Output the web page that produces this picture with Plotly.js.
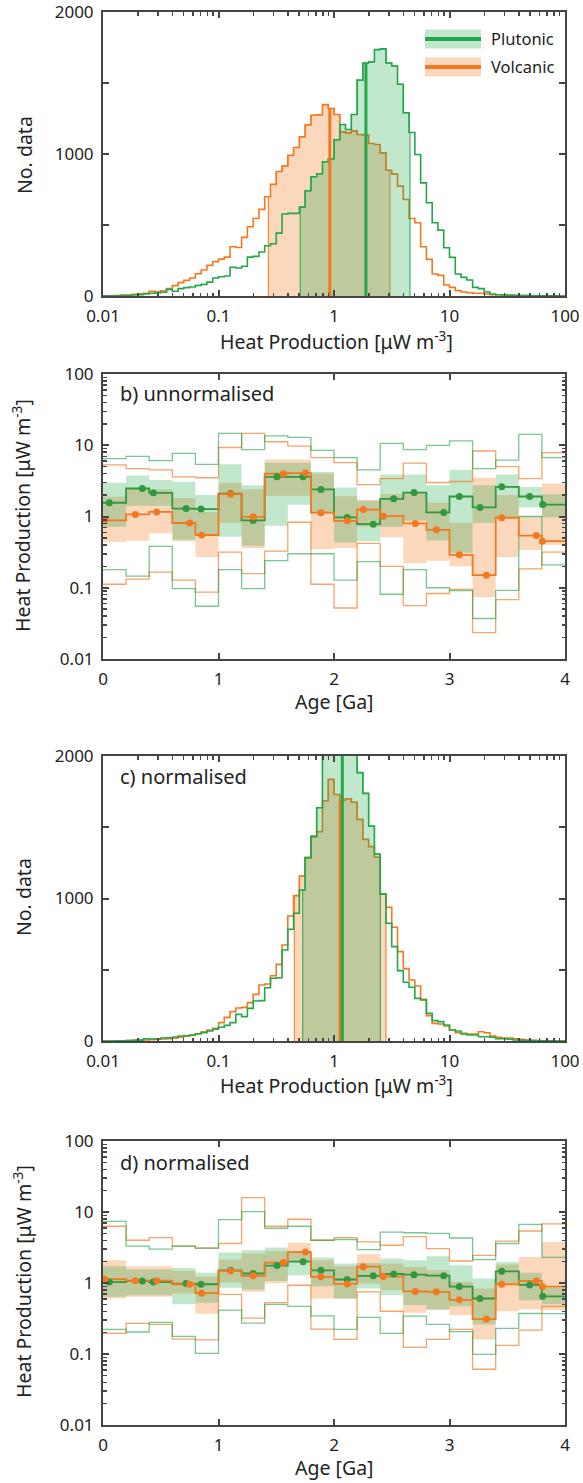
<!DOCTYPE html>
<html><head><meta charset="utf-8">
<script src="https://cdn.plot.ly/plotly-3.0.1.min.js"></script>
<style>html,body{margin:0;padding:0;background:#fff}</style>
</head><body><div id="chart" style="width:583px;height:1483px"></div>
<script>
// ---------------- DATA ----------------
// Histogram bins: log10 width 0.05 from 0.01 to 100 (80 bins)
const histLogStart = -2, histLogStep = 0.05, histBins = 80;
// a) unnormalised counts
const plutCountA = [1,2,2,3,3,7,9,14,19,23,26,47,33,52,59,63,75,82,98,127,136,141,202,197,209,274,279,310,354,368,443,577,582,582,626,741,840,861,945,966,1100,1208,1173,1278,1520,1641,1649,1735,1740,1641,1620,1491,1290,1151,997,797,657,516,464,340,272,155,131,113,61,52,28,14,9,7,5,4,3,3,2,2,1,1,1,0];
const volcCountA = [2,2,4,7,7,12,16,19,33,30,37,52,73,94,110,127,157,183,216,242,260,274,347,342,413,488,546,610,699,786,877,915,990,1046,1121,1205,1273,1276,1348,1320,1278,1156,1149,1163,1137,1133,1074,1067,1008,886,858,774,680,546,516,347,258,155,145,77,61,38,28,23,19,19,14,9,9,7,7,5,4,3,2,2,1,1,0,0];
const plutRangeA = [0.51, 4.55], volcRangeA = [0.27, 3.05];
const plutMedianA = 1.89, volcMedianA = 0.92;
// c) normalised counts
const plutCountC = [0,0,1,2,3,5,6,16,14,16,21,23,28,35,37,42,51,58,70,82,96,110,129,187,171,229,281,283,374,440,444,639,784,896,1060,1287,1434,1637,2150,2400,2500,2450,2350,2150,1883,1738,1509,1312,1031,826,662,494,412,377,299,288,194,143,136,112,77,70,49,42,42,30,30,26,16,16,12,7,5,4,3,2,1,1,0,0];
const volcCountC = [0,0,1,2,3,5,6,7,9,12,14,16,19,26,33,40,51,65,77,89,129,166,206,232,236,269,327,393,400,458,538,674,877,1020,1158,1287,1438,1469,1686,1836,1730,1690,1700,1675,1555,1415,1364,1289,1031,938,798,627,508,428,386,292,178,124,119,105,77,58,54,49,49,65,58,35,26,21,21,16,12,7,5,3,2,1,0,0];
const plutRangeC = [0.536, 2.52], volcRangeC = [0.453, 2.82];
const plutMedianC = 1.18, volcMedianC = 1.13;

// Age bins 0-4 Ga, width 0.2
const ageStart = 0, ageStep = 0.2, ageBins = 20;
// b) unnormalised
const plutAgeB = [0.055,0.34,0.436,0.719,0.848,1.105,1.30,1.506,1.732,1.887,2.115,2.34,2.517,2.693,2.95,3.085,3.264,3.452,3.694,3.807];
const volcAgeB = [0.015,0.28,0.465,0.75,0.854,1.105,1.30,1.561,1.752,1.887,2.115,2.254,2.427,2.704,2.886,3.085,3.319,3.452,3.752,3.804];
const plutMedB = [1.56,2.47,2.15,1.29,1.27,2.1,0.88,3.6,3.6,2.4,0.97,0.78,1.77,2.17,1.14,1.91,1.34,2.61,1.91,1.47];
const volcMedB = [0.88,1.07,1.16,0.81,0.55,2.06,0.99,3.98,4.07,1.13,0.87,1.25,1.01,0.80,0.65,0.29,0.15,0.96,0.54,0.45];
const plutHiB = [2.97,3.77,3.24,3.07,2.0,5.4,2.75,5.7,5.7,4.2,2.55,1.66,3.9,3.9,2.75,4.5,2.75,3.9,2.6,2.06];
const plutLoB = [0.72,1.41,1.41,0.47,0.55,0.52,0.39,0.74,1.46,1.11,0.43,0.45,0.71,0.88,0.46,0.31,0.81,0.95,1.35,0.98];
const volcHiB = [1.89,2.39,2.39,1.82,1.16,2.97,2.42,6.3,6.3,4.0,1.93,1.70,2.06,2.1,1.56,0.82,3.5,2.0,1.02,2.9];
const volcLoB = [0.44,0.455,0.58,0.45,0.27,0.82,0.36,1.95,1.95,0.35,0.36,0.72,0.51,0.22,0.24,0.2,0.074,0.27,0.34,0.40];
const plutTopB = [6.5,7.0,6.1,7.7,5.4,14.7,8.7,13.5,12.9,8.5,6.7,4.5,10.6,8.7,9.96,11.5,4.7,6.2,14.2,6.7];
const plutBotB = [0.18,0.146,0.38,0.097,0.055,0.18,0.097,0.24,0.30,0.30,0.128,0.233,0.081,0.18,0.10,0.091,0.037,0.092,1.0,0.21];
const volcTopB = [5.3,4.7,4.5,3.6,3.5,9.3,14.7,11.2,9.7,6.7,5.7,2.8,3.4,5.6,3.0,3.1,8.3,5.0,3.4,7.9];
const volcBotB = [0.112,0.132,0.166,0.128,0.087,0.316,0.158,0.326,0.83,0.112,0.052,0.42,0.2,0.056,0.083,0.095,0.0235,0.068,0.184,0.316];
// d) normalised
const plutAgeD = plutAgeB, volcAgeD = volcAgeB;
const plutMedD = [1.03,1.07,1.03,0.98,0.96,1.51,1.36,1.76,2.0,1.51,1.12,1.26,1.34,1.31,1.27,0.89,0.605,1.46,0.94,0.65];
const volcMedD = [1.13,1.08,1.08,0.96,0.72,1.48,1.26,1.94,2.73,1.22,0.97,1.70,1.23,0.76,0.75,0.58,0.31,0.96,1.07,0.89];
const plutHiD = [1.72,1.55,1.55,1.63,1.39,2.68,2.89,3.15,2.82,2.28,1.88,1.92,2.21,2.09,2.38,1.78,1.16,1.98,1.39,0.85];
const plutLoD = [0.64,0.67,0.67,0.50,0.526,0.855,0.81,1.07,1.29,0.90,0.605,0.836,0.67,0.49,0.425,0.47,0.26,0.98,0.57,0.50];
const volcHiD = [2.09,1.72,1.72,1.48,1.22,2.14,2.6,2.82,3.66,2.09,1.72,2.54,1.88,1.68,1.51,1.04,0.836,1.82,2.33,3.78];
const volcLoD = [0.605,0.64,0.64,0.71,0.37,1.02,0.75,0.99,1.98,0.605,0.60,0.98,0.79,0.38,0.42,0.353,0.16,0.40,0.425,0.415];
const plutTopD = [7.4,3.3,3.0,3.3,3.1,7.8,10.1,5.9,6.3,4.0,4.1,2.95,5.2,5.1,5.0,4.3,2.14,3.6,6.7,2.3];
const volcTopD = [6.3,4.0,4.35,3.3,3.1,3.6,15.9,6.3,7.9,4.0,4.35,3.8,3.4,4.5,3.05,2.04,2.45,3.9,5.4,6.8];
const plutBotD = [0.222,0.204,0.279,0.177,0.102,0.415,0.272,0.50,0.468,0.345,0.222,0.327,0.195,0.342,0.261,0.206,0.099,0.23,0.372,0.37];
const volcBotD = [0.195,0.27,0.261,0.162,0.158,0.69,0.32,0.53,0.93,0.224,0.161,0.75,0.40,0.124,0.161,0.222,0.061,0.132,0.217,0.47];

const seriesNames = ['Plutonic', 'Volcanic'];
const histTickVals = [0.01, 0.1, 1, 10, 100];
const histTickText = ['0.01', '0.1', '1', '10', '100'];
const countTickVals = [0, 1000, 2000];
const countTickText = ['0', '1000', '2000'];
const countMinorVals = [500, 1500];
const hpTickVals = [0.01, 0.1, 1, 10, 100];
const hpTickText = ['0.01', '0.1', '1', '10', '100'];
const ageTickVals = [0, 1, 2, 3, 4];
const ageTickText = ['0', '1', '2', '3', '4'];

// ---------------- STYLE ----------------
const W = 583, H = 1483;
const GREEN = 'rgb(34,168,74)', ORANGE = 'rgb(242,121,32)';
const GREEN_FILL = 'rgba(34,168,74,0.28)', ORANGE_FILL = 'rgba(242,121,32,0.3)';
const GREEN_OUT = 'rgba(34,168,74,0.62)', ORANGE_OUT = 'rgba(242,121,32,0.68)';
const GREEN_DOT = 'rgb(50,152,62)';
const AX = '#454545', TXT = '#222';
const FONT = 'Noto Sans, Open Sans, sans-serif';
const TITLE_SIZE = 19.5, TICK_SIZE = 17, PANEL_SIZE = 20, LEG_SIZE = 16.5;

const histEdges = Array.from({length: histBins + 1}, (_, i) => Math.pow(10, histLogStart + i * histLogStep));
const ageEdges = Array.from({length: ageBins + 1}, (_, i) => +(ageStart + i * ageStep).toFixed(3));
const logMinor = [];
for (let e = -2; e < 2; e++) for (let m = 2; m <= 9; m++) logMinor.push(m * Math.pow(10, e));

function binOf(edges, v) { let k = 0; while (k < edges.length - 2 && edges[k + 1] <= v) k++; return k; }
function stepTrace(edges, vals, xa, ya, color, width) {
  return {x: edges, y: vals.concat([vals[vals.length - 1]]), xaxis: xa, yaxis: ya, type: 'scatter', mode: 'lines',
    line: {shape: 'hv', color: color, width: width}, hoverinfo: 'skip', showlegend: false};
}
function clippedFill(edges, vals, range, xa, ya, fill, lineColor) {
  const lo = range[0], hi = range[1];
  const xs = [lo, lo], ys = [0];
  let k = binOf(edges, lo); ys.push(vals[k]);
  for (let i = k + 1; edges[i] < hi; i++) { xs.push(edges[i]); ys.push(vals[i]); }
  const kh = binOf(edges, hi);
  xs.push(hi); ys.push(vals[kh]); xs.push(hi); ys.push(0);
  return {x: xs, y: ys, xaxis: xa, yaxis: ya, type: 'scatter', mode: 'lines', fill: 'tozeroy', fillcolor: fill,
    line: {shape: 'hv', color: lineColor, width: 1}, hoverinfo: 'skip', showlegend: false};
}
function medianLine(edges, vals, m, xa, ya, color) {
  const v = vals[binOf(edges, m)];
  return {x: [m, m], y: [-30, v], xaxis: xa, yaxis: ya, type: 'scatter', mode: 'lines',
    line: {color: color, width: 3}, hoverinfo: 'skip', showlegend: false};
}
function band(edges, lo, hi, xa, ya, fill) {
  return [
    {x: edges, y: lo.concat([lo[lo.length - 1]]), xaxis: xa, yaxis: ya, type: 'scatter', mode: 'lines',
      line: {shape: 'hv', width: 0, color: 'rgba(0,0,0,0)'}, hoverinfo: 'skip', showlegend: false},
    {x: edges, y: hi.concat([hi[hi.length - 1]]), xaxis: xa, yaxis: ya, type: 'scatter', mode: 'lines',
      line: {shape: 'hv', width: 0, color: 'rgba(0,0,0,0)'}, fill: 'tonexty', fillcolor: fill, hoverinfo: 'skip', showlegend: false}
  ];
}
function dots(x, y, xa, ya, color) {
  return {x: x, y: y, xaxis: xa, yaxis: ya, type: 'scatter', mode: 'markers',
    marker: {size: 7, color: color}, hoverinfo: 'skip', showlegend: false};
}

const traces = [];
function histPanel(pCount, vCount, pRange, vRange, pMed, vMed, xa, ya) {
  traces.push(clippedFill(histEdges, vCount, vRange, xa, ya, ORANGE_FILL, ORANGE));
  traces.push(stepTrace(histEdges, vCount, xa, ya, ORANGE, 1.6));
  traces.push(clippedFill(histEdges, pCount, pRange, xa, ya, GREEN_FILL, GREEN));
  traces.push(stepTrace(histEdges, pCount, xa, ya, GREEN, 1.6));
  traces.push(medianLine(histEdges, vCount, vMed, xa, ya, ORANGE));
  traces.push(medianLine(histEdges, pCount, pMed, xa, ya, GREEN));
}
function agePanel(d, xa, ya) {
  traces.push(...band(ageEdges, d.vLo, d.vHi, xa, ya, ORANGE_FILL));
  traces.push(...band(ageEdges, d.pLo, d.pHi, xa, ya, GREEN_FILL));
  traces.push(stepTrace(ageEdges, d.vTop, xa, ya, ORANGE_OUT, 1.3));
  traces.push(stepTrace(ageEdges, d.vBot, xa, ya, ORANGE_OUT, 1.3));
  traces.push(stepTrace(ageEdges, d.pTop, xa, ya, GREEN_OUT, 1.3));
  traces.push(stepTrace(ageEdges, d.pBot, xa, ya, GREEN_OUT, 1.3));
  traces.push(stepTrace(ageEdges, d.pMed, xa, ya, GREEN_DOT, 1.8));
  traces.push(stepTrace(ageEdges, d.vMed, xa, ya, ORANGE, 1.8));
  traces.push(dots(d.pAge, d.pMed, xa, ya, GREEN_DOT));
  traces.push(dots(d.vAge, d.vMed, xa, ya, ORANGE));
}
histPanel(plutCountA, volcCountA, plutRangeA, volcRangeA, plutMedianA, volcMedianA, 'x', 'y');
agePanel({vLo: volcLoB, vHi: volcHiB, pLo: plutLoB, pHi: plutHiB, vTop: volcTopB, vBot: volcBotB, pTop: plutTopB, pBot: plutBotB,
  pMed: plutMedB, vMed: volcMedB, pAge: plutAgeB, vAge: volcAgeB}, 'x2', 'y2');
histPanel(plutCountC, volcCountC, plutRangeC, volcRangeC, plutMedianC, volcMedianC, 'x3', 'y3');
agePanel({vLo: volcLoD, vHi: volcHiD, pLo: plutLoD, pHi: plutHiD, vTop: volcTopD, vBot: volcBotD, pTop: plutTopD, pBot: plutBotD,
  pMed: plutMedD, vMed: volcMedD, pAge: plutAgeD, vAge: volcAgeD}, 'x4', 'y4');

// ---------------- LAYOUT ----------------
const xDom = [103 / W, 565 / W];
const py = px => 1 - px / H;
const base = {showline: true, linecolor: AX, linewidth: 2, mirror: 'ticks', ticks: 'inside', ticklen: 6, tickwidth: 2,
  tickcolor: AX, showgrid: false, zeroline: false, tickfont: {family: FONT, size: TICK_SIZE, color: TXT}, fixedrange: true,
  ticklabelstandoff: 4, ticklabeloverflow: 'allow'};
function logMinorSpec() { return {tickmode: 'array', tickvals: logMinor, ticks: 'inside', ticklen: 3.5, tickwidth: 1.5, tickcolor: AX, showgrid: false}; }
function countMinorSpec() { return {tickmode: 'array', tickvals: countMinorVals, ticks: 'inside', ticklen: 6, tickwidth: 2, tickcolor: AX, showgrid: false}; }

const layout = {
  width: W, height: H, margin: {l: 0, r: 0, t: 0, b: 0}, paper_bgcolor: '#fff', plot_bgcolor: '#fff', showlegend: false,
  font: {family: FONT, color: TXT},
  xaxis: Object.assign({}, base, {domain: xDom, anchor: 'y', type: 'log', range: [-2, 2], tickmode: 'array', tickvals: histTickVals, ticktext: histTickText, minor: logMinorSpec()}),
  yaxis: Object.assign({}, base, {domain: [py(296), py(12)], anchor: 'x', range: [0, 2000], tickmode: 'array', tickvals: countTickVals, ticktext: countTickText, minor: countMinorSpec()}),
  xaxis2: Object.assign({}, base, {domain: xDom, anchor: 'y2', range: [0, 4], tickmode: 'array', tickvals: ageTickVals, ticktext: ageTickText}),
  yaxis2: Object.assign({}, base, {domain: [py(659), py(374)], anchor: 'x2', type: 'log', range: [-2, 2], tickmode: 'array', tickvals: hpTickVals, ticktext: hpTickText, minor: logMinorSpec()}),
  xaxis3: Object.assign({}, base, {domain: xDom, anchor: 'y3', type: 'log', range: [-2, 2], tickmode: 'array', tickvals: histTickVals, ticktext: histTickText, minor: logMinorSpec()}),
  yaxis3: Object.assign({}, base, {domain: [py(1041), py(756)], anchor: 'x3', range: [0, 2000], tickmode: 'array', tickvals: countTickVals, ticktext: countTickText, minor: countMinorSpec()}),
  xaxis4: Object.assign({}, base, {domain: xDom, anchor: 'y4', range: [0, 4], tickmode: 'array', tickvals: ageTickVals, ticktext: ageTickText}),
  yaxis4: Object.assign({}, base, {domain: [py(1425), py(1141)], anchor: 'x4', type: 'log', range: [-2, 2], tickmode: 'array', tickvals: hpTickVals, ticktext: hpTickText, minor: logMinorSpec()}),
  annotations: [], shapes: []
};
const HP = 'Heat Production [μW m<sup>-3</sup>]';
function ann(text, x, y, opts) {
  layout.annotations.push(Object.assign({text: text, xref: 'paper', yref: 'paper', x: x / W, y: py(y), showarrow: false,
    xanchor: 'center', yanchor: 'middle', font: {family: FONT, size: TITLE_SIZE, color: TXT}}, opts || {}));
}
ann(HP, 336, 340);
ann('No. data', 24, 155, {textangle: -90});
ann(HP, 22, 516, {textangle: -90});
ann('Age [Ga]', 334, 701);
ann(HP, 336, 1084);
ann('No. data', 24, 897, {textangle: -90});
ann(HP, 22, 1282, {textangle: -90});
ann('Age [Ga]', 334, 1467);
ann('b) unnormalised', 118, 393, {xanchor: 'left', font: {family: FONT, size: PANEL_SIZE, color: TXT}});
ann('c) normalised', 118, 776, {xanchor: 'left', font: {family: FONT, size: PANEL_SIZE, color: TXT}});
ann('d) normalised', 118, 1162, {xanchor: 'left', font: {family: FONT, size: PANEL_SIZE, color: TXT}});
// legend
const leg = [{name: seriesNames[0], fill: GREEN_FILL, line: GREEN, y: 39}, {name: seriesNames[1], fill: ORANGE_FILL, line: ORANGE, y: 67}];
leg.forEach(l => {
  layout.shapes.push({type: 'rect', xref: 'paper', yref: 'paper', x0: 425 / W, x1: 481 / W, y0: py(l.y - 9.5), y1: py(l.y + 9.5), fillcolor: l.fill, line: {width: 0}});
  layout.shapes.push({type: 'line', xref: 'paper', yref: 'paper', x0: 425 / W, x1: 481 / W, y0: py(l.y), y1: py(l.y), line: {color: l.line, width: 4}});
  ann(l.name, 489, l.y, {xanchor: 'left', font: {family: FONT, size: LEG_SIZE, color: TXT}});
});

Plotly.newPlot('chart', traces, layout, {staticPlot: true, displayModeBar: false});
</script></body></html>
